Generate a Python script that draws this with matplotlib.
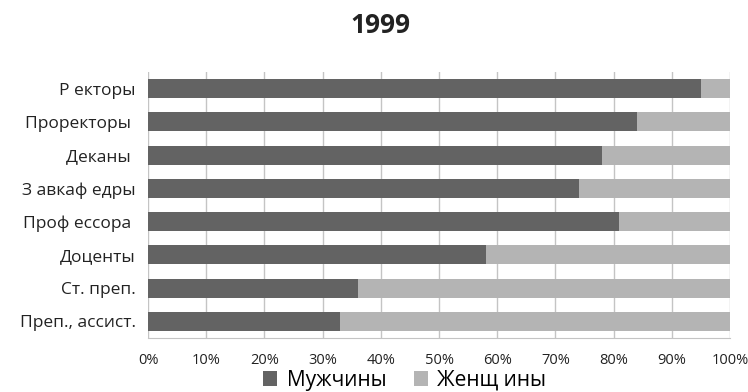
import numpy as np
import matplotlib
matplotlib.use('Agg')
import matplotlib.pyplot as plt

plt.rcParams['font.family'] = ['Open Sans', 'DejaVu Sans']

categories = ['Р екторы', 'Проректоры ', 'Деканы ', 'З авкаф едры', 'Проф ессора ',
              'Доценты', 'Ст. преп.', 'Преп., ассист.']
men = [95, 84, 78, 74, 81, 58, 36, 33]
women = [5, 16, 22, 26, 19, 42, 64, 67]
xticks = np.arange(0, 101, 10)
legend_labels = ['Мужчины', 'Женщ ины']

fig = plt.figure(figsize=(7.48, 3.92), dpi=100)
ax = fig.add_axes([0.198, 0.138, 0.778, 0.678])

y = np.arange(len(categories))
ax.barh(y, men, height=0.57, color='#636363', label=legend_labels[0], zorder=3)
ax.barh(y, women, left=men, height=0.57, color='#b4b4b4', label=legend_labels[1], zorder=3)

ax.set_xlim(0, 100)
ax.set_ylim(len(categories) - 0.5, -0.5)
ax.set_yticks(y)
ax.set_yticklabels(categories, fontsize=12.5, color='#222222')
ax.set_xticks(xticks)
ax.set_xticklabels(['%d%%' % t for t in xticks], fontsize=10.5, color='#222222')
ax.tick_params(axis='both', length=0)
ax.tick_params(axis='y', pad=9)
ax.tick_params(axis='x', pad=11)

ax.grid(axis='x', color='#c4c4c4', linewidth=1, zorder=0)
for s in ['top', 'left', 'right']:
    ax.spines[s].set_visible(False)
ax.spines['bottom'].set_color('#c4c4c4')

fig.text(0.508, 0.934, '1999', fontsize=19, fontweight='bold', color='#222222',
         ha='center', va='center')

fig.legend(loc='center', bbox_to_anchor=(0.541, 0.03), ncol=2, frameon=False,
           fontsize=15, handlelength=0.7, handleheight=0.7, columnspacing=1.3,
           handletextpad=0.45, borderpad=0)

fig.savefig('out.png', dpi=100)
